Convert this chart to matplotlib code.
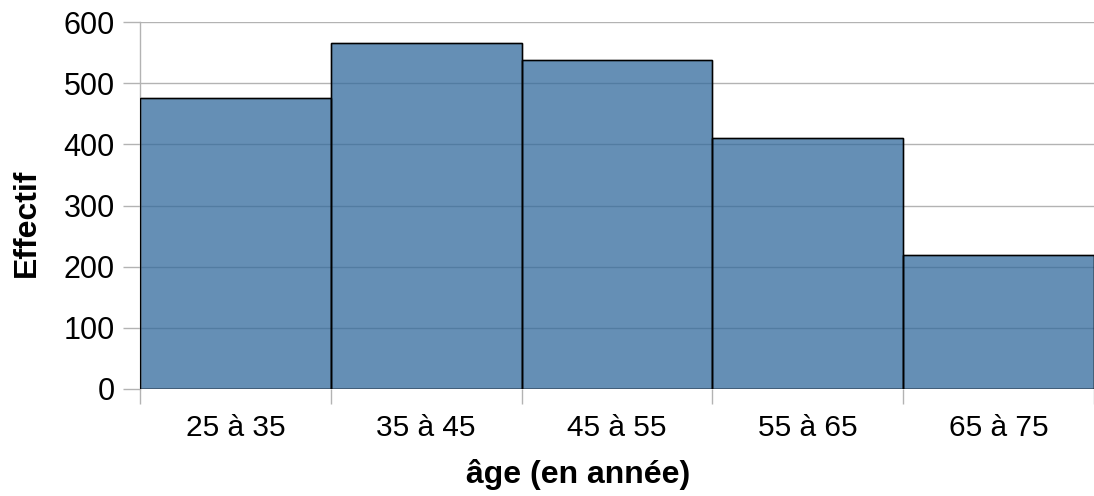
import matplotlib
matplotlib.use("Agg")
import matplotlib.pyplot as plt
import numpy as np

plt.rcParams['font.family'] = ['Liberation Sans', 'DejaVu Sans']

# Data
classes = ['25 à 35', '35 à 45', '45 à 55', '55 à 65', '65 à 75']
effectif = [475, 566, 538, 411, 219]

grid_grey = '#b3b3b3'

fig = plt.figure(figsize=(10.94, 4.96), dpi=100)
ax = fig.add_axes([140 / 1094, 1 - 389 / 496, 1 - 140 / 1094, (389 - 22) / 496])

x = np.arange(len(classes))
ax.bar(x, effectif, width=1.0, color='#326a9c', alpha=0.75,
       edgecolor='black', linewidth=1.0, zorder=2)
# black outline drawn opaque on top
ax.bar(x, effectif, width=1.0, fill=False, edgecolor='black', linewidth=1.0, zorder=3)

ax.set_xlim(-0.5, len(classes) - 0.5)
ax.set_ylim(0, 600)
ax.set_yticks(range(0, 601, 100))
ax.yaxis.grid(True, color=grid_grey, linewidth=1.0, zorder=0)
ax.set_axisbelow(True)

# ticks at class boundaries, labels centred under bars
ax.set_xticks(np.arange(-0.5, len(classes)))
ax.set_xticklabels([])
ax.set_xticks(x, minor=True)
ax.set_xticklabels(classes, minor=True)
ax.tick_params(axis='x', which='major', length=11, width=1, color=grid_grey)
ax.tick_params(axis='x', which='minor', length=0, pad=18, labelsize=21.5)
ax.tick_params(axis='y', length=12, width=1, color=grid_grey, pad=6, labelsize=22)

for side in ['top', 'right', 'bottom']:
    ax.spines[side].set_visible(False)
ax.spines['left'].set_color(grid_grey)
ax.spines['left'].set_linewidth(1.0)

fig.text(578 / 1094, 1 - 474 / 496, 'âge (en année)', ha='center', va='center',
         fontsize=23, fontweight='bold')
fig.text(27 / 1094, 1 - 223 / 496, 'Effectif', ha='center', va='center',
         rotation=90, fontsize=23, fontweight='bold')

fig.savefig('out.png', dpi=100)
